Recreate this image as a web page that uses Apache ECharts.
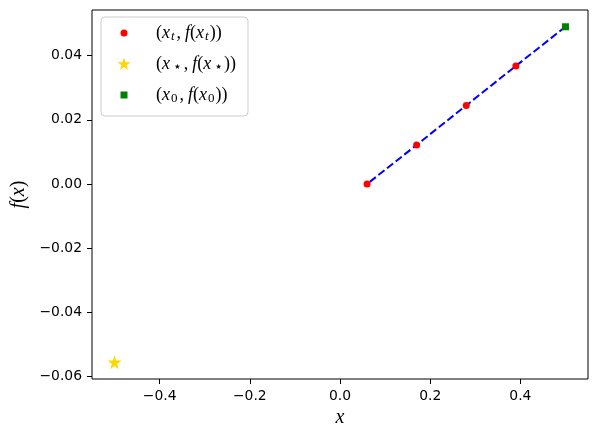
<!DOCTYPE html>
<html>
<head>
<meta charset="utf-8">
<script src="https://cdn.jsdelivr.net/npm/echarts@6/dist/echarts.min.js"></script>
<style>
  html, body { margin: 0; padding: 0; background: #fff; }
  #main { width: 597px; height: 437px; }
</style>
</head>
<body>
<div id="main"></div>
<script>
// trajectory x_t, f(x_t)
var xt = [0.39, 0.28, 0.17, 0.06];
var fxt = [0.0368, 0.0245, 0.0122, 0.0];
// optimum x_star
var xStar = [-0.5];
var fStar = [-0.0555];
// start point x_0
var x0 = [0.5];
var f0 = [0.049];
// tick labels
var xTicks = [-0.4, -0.2, 0.0, 0.2, 0.4];
var yTicks = [-0.06, -0.04, -0.02, 0.00, 0.02, 0.04];

function pairs(xs, ys) {
  var out = [];
  for (var i = 0; i < xs.length; i++) out.push([xs[i], ys[i]]);
  return out;
}

// 5 point star like matplotlib '*'
function starPath(cx, cy, r) {
  var d = '';
  for (var k = 0; k < 10; k++) {
    var rr = k % 2 === 0 ? r : r * 0.382;
    var a = (-90 + 36 * k) * Math.PI / 180;
    d += (k === 0 ? 'M' : 'L') + (cx + rr * Math.cos(a)).toFixed(3) + ',' + (cy + rr * Math.sin(a)).toFixed(3);
  }
  return d + 'Z';
}

var starSymbol = 'path://' + starPath(10, 10, 10);
// legend icons in a 14x14 box (corner moves fix the box size)
var iconCircle = 'path://M0,0M14,14M10.5,7A3.5,3.5,0,1,1,3.5,7A3.5,3.5,0,1,1,10.5,7Z';
var iconStar = 'path://M0,0M14,14' + starPath(7, 7.4, 7);
var iconSquare = 'path://M0,0M14,14M3.5,3.5L10.5,3.5L10.5,10.5L3.5,10.5Z';

var minus = function (s) { return s.replace('-', '\u2212'); };

var serif = 'Liberation Serif';
var legendText = {
  xt: '{g|}{p|(}{i|x}{s|t}{c|,}{i|f}{p|(}{i|x}{s|t}{p|))}',
  xs: '{g|}{p|(}{i|x}{k|\u22c6}{c|,}{i|f}{p|(}{i|x}{k|\u22c6}{p|))}',
  x0: '{g|}{p|(}{i|x}{n|0}{c|,}{i|f}{p|(}{i|x}{n|0}{p|))}'
};

var chart = echarts.init(document.getElementById('main'));
var option = {
  animation: false,
  backgroundColor: '#fff',
  grid: {
    left: 92, right: 9, top: 10, bottom: 58,
    show: true, borderColor: '#000', borderWidth: 1,
    outerBoundsMode: 'none'
  },
  xAxis: {
    type: 'value',
    min: -0.55, max: 0.55,
    splitLine: { show: false },
    axisLine: { show: false, onZero: false },
    axisTick: { show: true, length: 5, lineStyle: { color: '#000', width: 1 }, customValues: xTicks },
    axisLabel: {
      customValues: xTicks, margin: 10, color: '#000', fontSize: 13.9, fontFamily: 'DejaVu Sans',
      formatter: function (v) { return minus(v.toFixed(1)); }
    },
    name: '{i|x}', nameLocation: 'middle', nameGap: 27,
    nameTextStyle: { rich: { i: { fontFamily: serif, fontStyle: 'italic', fontSize: 20, color: '#000' } } }
  },
  yAxis: {
    type: 'value',
    min: -0.060725, max: 0.054225,
    splitLine: { show: false },
    axisLine: { show: false, onZero: false },
    axisTick: { show: true, length: 5, lineStyle: { color: '#000', width: 1 }, customValues: yTicks },
    axisLabel: {
      customValues: yTicks, margin: 10, color: '#000', fontSize: 13.9, fontFamily: 'DejaVu Sans',
      formatter: function (v) { return minus(v.toFixed(2)); }
    },
    name: '{i|f}{p|(}{i|x}{p|)}', nameLocation: 'middle', nameGap: 60,
    nameTextStyle: {
      rich: {
        i: { fontFamily: serif, fontStyle: 'italic', fontSize: 20, color: '#000' },
        p: { fontFamily: serif, fontSize: 20, color: '#000' }
      }
    }
  },
  legend: {
    orient: 'vertical',
    left: 101, top: 17,
    itemWidth: 14, itemHeight: 14, itemGap: 12,
    padding: [7, 12, 11, 16],
    backgroundColor: 'rgba(255,255,255,0.8)',
    borderColor: '#cccccc', borderWidth: 1, borderRadius: 4,
    data: [
      { name: 'xt', icon: iconCircle },
      { name: 'xs', icon: iconStar },
      { name: 'x0', icon: iconSquare }
    ],
    formatter: function (name) { return legendText[name]; },
    textStyle: {
      color: '#000',
      rich: {
        g: { width: 20 },
        p: { fontFamily: serif, fontSize: 18, lineHeight: 20, color: '#000' },
        c: { fontFamily: serif, fontSize: 18, lineHeight: 20, color: '#000', padding: [0, 4, 0, 1] },
        i: { fontFamily: serif, fontStyle: 'italic', fontSize: 18, lineHeight: 20, color: '#000' },
        s: { fontFamily: serif, fontStyle: 'italic', fontSize: 13, lineHeight: 9, verticalAlign: 'bottom', color: '#000', padding: [0, 1, 0, 1] },
        n: { fontFamily: serif, fontSize: 13, lineHeight: 9, verticalAlign: 'bottom', color: '#000', padding: [0, 1, 0, 1] },
        k: { fontFamily: 'DejaVu Sans', fontSize: 14, lineHeight: 9, verticalAlign: 'bottom', color: '#000', padding: [0, 1, 0, 3] }
      }
    }
  },
  series: [
    {
      name: 'path', type: 'line', z: 1,
      data: pairs(x0.concat(xt), f0.concat(fxt)),
      showSymbol: false, symbol: 'none',
      lineStyle: { color: '#0000ff', width: 2, type: [7.7, 3.3] }
    },
    {
      name: 'xt', type: 'scatter', z: 3,
      data: pairs(xt, fxt),
      symbol: 'circle', symbolSize: 7,
      itemStyle: { color: '#ff0000', opacity: 1 }
    },
    {
      name: 'xs', type: 'scatter', z: 3,
      data: pairs(xStar, fStar),
      symbol: starSymbol, symbolSize: 14,
      itemStyle: { color: '#ffd700', opacity: 1 }
    },
    {
      name: 'x0', type: 'scatter', z: 3,
      data: pairs(x0, f0),
      symbol: 'rect', symbolSize: 7,
      itemStyle: { color: '#008000', opacity: 1 }
    }
  ]
};
chart.setOption(option);
</script>
</body>
</html>
